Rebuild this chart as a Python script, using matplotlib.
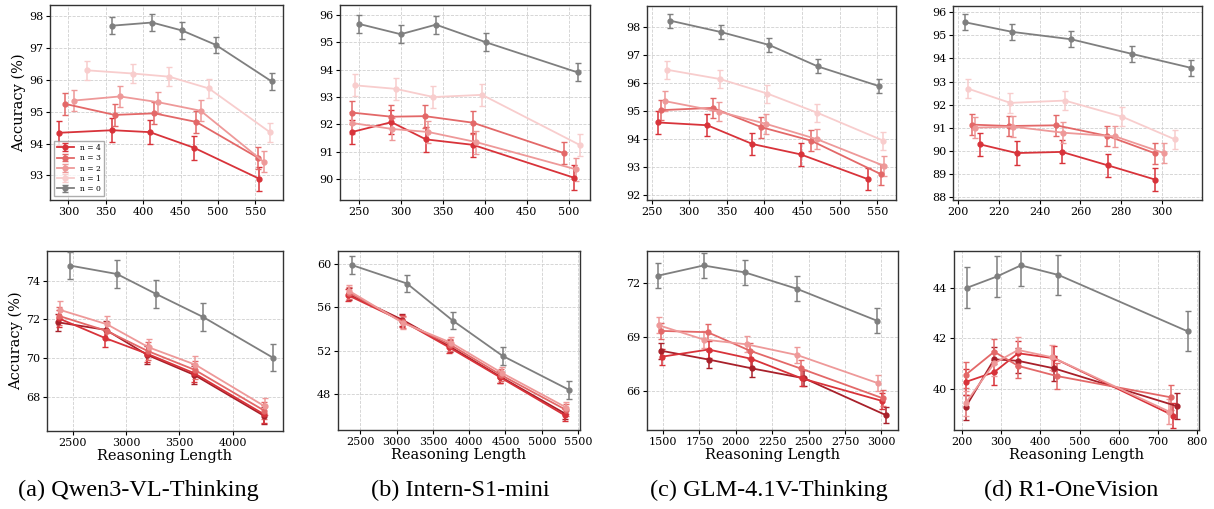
import matplotlib
matplotlib.use("Agg")
import matplotlib.pyplot as plt
from matplotlib.ticker import MultipleLocator

plt.rcParams["font.family"] = ["DejaVu Serif"]

# series order in top row: n = 4, 3, 2, 1, 0
TOP_LABELS = ["n = 4", "n = 3", "n = 2", "n = 1", "n = 0"]
TOP_COLORS = ["#d8333a", "#e36868", "#ee9999", "#f8cdcd", "#7f7f7f"]
# bottom row: four red shades + gray
BOT_COLORS = ["#a8202a", "#d8333a", "#e36868", "#ee9999", "#7f7f7f"]

# ---- top row data ----
qwen_top_x = [[288, 359, 409, 468, 555],
              [295, 362, 415, 471, 554],
              [307, 369, 420, 477, 561],
              [325, 386, 435, 488, 570],
              [358, 412, 452, 497, 572]]
qwen_top_y = [[94.34, 94.42, 94.36, 93.87, 92.90],
              [95.25, 94.90, 94.95, 94.68, 93.55],
              [95.35, 95.48, 95.30, 95.03, 93.43],
              [96.30, 96.20, 96.10, 95.73, 94.35],
              [97.70, 97.80, 97.55, 97.10, 95.95]]
qwen_top_err = [0.38, 0.35, 0.33, 0.30, 0.26]

intern_top_x = [[242, 289, 330, 386, 506],
                [242, 289, 329, 386, 494],
                [242, 290, 333, 390, 509],
                [245, 294, 339, 397, 513],
                [250, 300, 342, 402, 511]]
intern_top_y = [[91.72, 92.08, 91.45, 91.25, 90.05],
                [92.43, 92.28, 92.30, 92.06, 90.95],
                [92.05, 91.83, 91.72, 91.35, 90.35],
                [93.43, 93.30, 93.00, 93.08, 91.25],
                [95.68, 95.30, 95.65, 95.00, 93.90]]
intern_top_err = [0.45, 0.42, 0.42, 0.40, 0.33]

glm_top_x = [[258, 324, 384, 448, 538],
             [263, 331, 396, 462, 555],
             [268, 339, 402, 470, 559],
             [271, 341, 404, 470, 558],
             [274, 342, 406, 471, 552]]
glm_top_y = [[94.60, 94.50, 93.83, 93.46, 92.57],
             [95.04, 95.12, 94.43, 93.95, 92.75],
             [95.36, 94.99, 94.55, 94.00, 93.05],
             [96.48, 96.15, 95.63, 94.95, 93.95],
             [98.24, 97.83, 97.37, 96.60, 95.90]]
glm_top_err = [0.40, 0.37, 0.35, 0.32, 0.25]

r1ov_top_x = [[210.7, 228.8, 250.9, 273.3, 296.6],
              [207.2, 225.0, 248.1, 273.2, 296.4],
              [208.5, 227.2, 251.6, 277.0, 300.8],
              [204.9, 225.7, 252.4, 280.4, 306.2],
              [203.4, 226.7, 255.5, 285.1, 313.8]]
r1ov_top_y = [[90.29, 89.91, 89.96, 89.38, 88.76],
              [91.14, 91.08, 91.11, 90.65, 89.90],
              [91.01, 91.05, 90.79, 90.63, 89.91],
              [92.70, 92.08, 92.18, 91.48, 90.50],
              [95.57, 95.15, 94.83, 94.20, 93.60]]
r1ov_top_err = [0.50, 0.45, 0.45, 0.42, 0.35]

# ---- bottom row data ----
qwen_bot_x = [[2360, 2810, 3200, 3640, 4290],
              [2365, 2805, 3195, 3635, 4290],
              [2370, 2815, 3205, 3645, 4295],
              [2381, 2819, 3210, 3650, 4300],
              [2469, 2913, 3280, 3721, 4376]]
qwen_bot_y = [[71.84, 71.45, 70.15, 69.12, 67.02],
              [72.05, 71.02, 70.22, 69.22, 67.10],
              [72.17, 71.40, 70.35, 69.38, 67.28],
              [72.48, 71.74, 70.55, 69.65, 67.50],
              [74.78, 74.34, 73.31, 72.12, 70.02]]
qwen_bot_err = [0.45, 0.45, 0.45, 0.45, 0.72]

intern_bot_x = [[2340, 3080, 3730, 4430, 5320],
                [2335, 3075, 3725, 4425, 5315],
                [2345, 3085, 3740, 4440, 5330],
                [2350, 3090, 3745, 4450, 5340],
                [2385, 3142, 3775, 4463, 5381]]
intern_bot_y = [[57.20, 54.85, 52.40, 49.60, 46.20],
                [57.10, 54.75, 52.30, 49.55, 46.05],
                [57.35, 54.65, 52.55, 49.75, 46.55],
                [57.50, 54.55, 52.75, 49.95, 46.75],
                [59.90, 58.20, 54.77, 51.51, 48.37]]
intern_bot_err = [0.55, 0.55, 0.55, 0.55, 0.80]

glm_bot_x = [[1489, 1813, 2114, 2470, 3034],
             [1493, 1813, 2107, 2452, 3007],
             [1489, 1806, 2098, 2445, 3011],
             [1470, 1779, 2075, 2422, 2979],
             [1466, 1779, 2064, 2418, 2970]]
glm_bot_y = [[68.23, 67.74, 67.24, 66.69, 64.62],
             [67.90, 68.30, 67.78, 66.69, 65.42],
             [69.34, 69.27, 68.23, 67.24, 65.57],
             [69.66, 68.86, 68.59, 67.99, 66.41],
             [72.43, 73.00, 72.61, 71.70, 69.91]]
glm_bot_err = [0.45, 0.45, 0.45, 0.45, 0.70]

r1ov_bot_x = [[209, 282, 343, 435, 747],
              [209, 282, 343, 435, 739],
              [209, 282, 343, 441, 734],
              [209, 282, 343, 430, 728],
              [214, 289, 350, 446, 775]]
r1ov_bot_y = [[39.26, 41.16, 41.10, 40.80, 39.31],
              [40.26, 40.65, 41.40, 41.20, 38.93],
              [40.54, 41.46, 40.90, 40.50, 39.65],
              [39.42, 41.00, 41.53, 41.24, 39.09],
              [44.00, 44.44, 44.88, 44.50, 42.27]]
r1ov_bot_err = [0.50, 0.50, 0.50, 0.50, 0.80]

CAPTIONS = ["(a) Qwen3-VL-Thinking", "(b) Intern-S1-mini",
            "(c) GLM-4.1V-Thinking", "(d) R1-OneVision"]

W, H = 1214, 509
fig = plt.figure(figsize=(W / 100, H / 100), dpi=100)


def add_ax(l, t, r, b):
    return fig.add_axes([l / W, 1 - b / H, (r - l) / W, (b - t) / H])


def draw(ax, xs, ys, errs, colors, xlim, ylim, xstep, ystep, labels=None):
    for i in range(len(xs)):
        ax.errorbar(xs[i], ys[i], yerr=errs[i], color=colors[i], marker="o",
                    markersize=3.5, linewidth=1.3, elinewidth=1.1, capsize=2.5,
                    capthick=1.0, label=labels[i] if labels else None, zorder=3)
    ax.set_xlim(*xlim)
    ax.set_ylim(*ylim)
    ax.xaxis.set_major_locator(MultipleLocator(xstep))
    ax.yaxis.set_major_locator(MultipleLocator(ystep))
    ax.grid(True, linestyle="--", color="#d0d0d0", linewidth=0.6, zorder=0)
    ax.tick_params(labelsize=8, length=3, width=0.8, pad=2)
    for s in ax.spines.values():
        s.set_color("#333333")
        s.set_linewidth(1.0)


top_boxes = [(50, 5, 283, 200), (340, 5, 590, 200), (647, 6, 896, 200), (953, 6, 1202, 200)]
bot_boxes = [(47, 251, 283, 431), (338, 251, 580, 430), (647, 251, 898, 430), (954, 251, 1199, 430)]

top_data = [(qwen_top_x, qwen_top_y, qwen_top_err, (275.5, 587), (92.23, 98.35), 50, 1),
            (intern_top_x, intern_top_y, intern_top_err, (227.7, 525.5), (89.23, 96.37), 50, 1),
            (glm_top_x, glm_top_y, glm_top_err, (243.8, 574.9), (91.83, 98.76), 50, 1),
            (r1ov_top_x, r1ov_top_y, r1ov_top_err, (197.7, 319.4), (87.88, 96.27), 20, 1)]
bot_data = [(qwen_bot_x, qwen_bot_y, qwen_bot_err, (2256, 4473), (66.22, 75.53), 500, 2),
            (intern_bot_x, intern_bot_y, intern_bot_err, (2192, 5527), (44.68, 61.2), 500, 4),
            (glm_bot_x, glm_bot_y, glm_bot_err, (1390, 3114), (63.8, 73.81), 250, 3),
            (r1ov_bot_x, r1ov_bot_y, r1ov_bot_err, (179.6, 804.3), (38.36, 45.45), 100, 2)]

for k in range(4):
    xs, ys, es, xl, yl, xst, yst = top_data[k]
    ax = add_ax(*top_boxes[k])
    draw(ax, xs, ys, es, TOP_COLORS, xl, yl, xst, yst, TOP_LABELS)
    if k == 0:
        ax.set_ylabel("Accuracy (%)", fontsize=10.5, labelpad=2)
        ax.legend(loc="lower left", fontsize=5.5, frameon=True, handlelength=2.2,
                  borderpad=0.4, labelspacing=0.3, fancybox=False, edgecolor="#999999")

    xs, ys, es, xl, yl, xst, yst = bot_data[k]
    ax = add_ax(*bot_boxes[k])
    draw(ax, xs, ys, es, BOT_COLORS, xl, yl, xst, yst)
    ax.set_xlabel("Reasoning Length", fontsize=10.5, labelpad=1)
    if k == 0:
        ax.set_ylabel("Accuracy (%)", fontsize=10.5, labelpad=2)

cap_x = [138, 460, 769, 1071]
for cx, cap in zip(cap_x, CAPTIONS):
    fig.text(cx / W, 1 - 490 / H, cap, ha="center", va="center",
             fontsize=17.5, family=["Liberation Serif"])

fig.savefig("out.png", dpi=100)
